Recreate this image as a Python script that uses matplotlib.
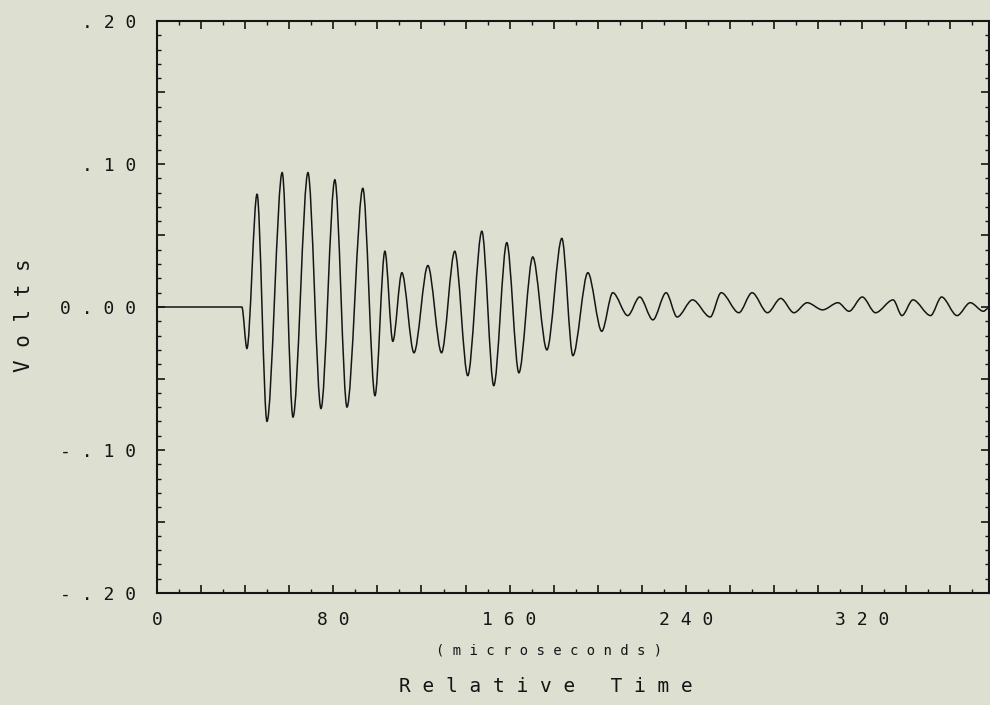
import matplotlib
matplotlib.use("Agg")
import matplotlib.pyplot as plt
from matplotlib.path import Path
from matplotlib.patches import PathPatch
from matplotlib.ticker import MultipleLocator, FuncFormatter

# ---- data (extrema of the trace) ----
time_us = [0, 38.5, 40.8, 45.4, 49.9, 56.8, 61.7, 68.5, 74.4, 80.7, 86.2,
           93.4, 98.9, 103.4, 107.0, 111.1, 116.6, 122.9, 129.1, 135.1,
           141.0, 147.4, 152.8, 158.7, 164.2, 170.5, 176.9, 183.7, 188.7,
           195.5, 201.8, 206.8, 213.6, 219, 225, 231, 236, 243, 251, 256,
           264, 270, 277, 283, 289, 295, 302, 309, 314, 320, 326, 334, 338,
           343, 351, 356, 363, 369, 375, 377]
volts = [0, 0, -0.029, 0.079, -0.080, 0.094, -0.077, 0.094, -0.071, 0.089,
         -0.070, 0.083, -0.062, 0.039, -0.024, 0.024, -0.032, 0.029, -0.032,
         0.039, -0.048, 0.053, -0.055, 0.045, -0.046, 0.035, -0.030, 0.048,
         -0.034, 0.024, -0.017, 0.010, -0.006, 0.007, -0.009, 0.010, -0.007,
         0.005, -0.007, 0.010, -0.004, 0.010, -0.004, 0.006, -0.004, 0.003,
         -0.002, 0.003, -0.003, 0.007, -0.004, 0.005, -0.006, 0.005, -0.006,
         0.007, -0.006, 0.003, -0.003, -0.001]

x_tick_values = [0, 80, 160, 240, 320]
x_tick_labels = ["0", "8 0", "1 6 0", "2 4 0", "3 2 0"]
y_tick_values = [0.20, 0.10, 0.00, -0.10, -0.20]
y_tick_labels = [". 2 0", ". 1 0", "0 . 0 0", "- . 1 0", "- . 2 0"]

BG = "#dddfd1"
INK = "#151515"
MONO = "DejaVu Sans Mono"

fig = plt.figure(figsize=(9.9, 7.05), dpi=100, facecolor=BG)
ax = fig.add_axes([157 / 990, 1 - 593 / 705, (989 - 157) / 990, (593 - 21) / 705])
ax.set_facecolor(BG)

# smooth trace: cubic Bezier with horizontal tangents at the read extrema
verts = [(time_us[0], volts[0])]
codes = [Path.MOVETO]
for i in range(1, len(time_us)):
    t0, v0 = time_us[i - 1], volts[i - 1]
    t1, v1 = time_us[i], volts[i]
    dt = t1 - t0
    verts += [(t0 + 0.32 * dt, v0), (t1 - 0.32 * dt, v1), (t1, v1)]
    codes += [Path.CURVE4] * 3
ax.add_patch(PathPatch(Path(verts, codes), fill=False, edgecolor=INK, lw=1.1))

ax.set_xlim(0, 377.5)
ax.set_ylim(-0.20, 0.20)

for s in ax.spines.values():
    s.set_color(INK)
    s.set_linewidth(1.5)

ax.xaxis.set_major_locator(MultipleLocator(20))
ax.xaxis.set_minor_locator(MultipleLocator(10))
lab_x = dict(zip(x_tick_values, x_tick_labels))
ax.xaxis.set_major_formatter(FuncFormatter(
    lambda v, p: lab_x.get(int(round(v)), "") if abs(v - round(v)) < 1e-6 else ""))

ax.yaxis.set_major_locator(MultipleLocator(0.05))
ax.yaxis.set_minor_locator(MultipleLocator(0.01))
lab_y = {round(k, 2): l for k, l in zip(y_tick_values, y_tick_labels)}
ax.yaxis.set_major_formatter(FuncFormatter(lambda v, p: lab_y.get(round(v, 2), "")))

ax.tick_params(which="both", direction="in", top=True, right=True, colors=INK)
ax.tick_params(which="major", length=6, width=1.2)
ax.tick_params(which="minor", length=3, width=1.0)
ax.tick_params(axis="x", which="major", pad=13, labelsize=13)
ax.tick_params(axis="y", which="major", pad=15, labelsize=13)
for lab in ax.get_xticklabels() + ax.get_yticklabels():
    lab.set_family(MONO)
    lab.set_color(INK)

fig.text(24 / 990, 1 - 315 / 705, "V o l t s", rotation=90, ha="center", va="center",
         family=MONO, fontsize=15, color=INK)
fig.text(549 / 990, 1 - 650 / 705, "( m i c r o s e c o n d s )", ha="center", va="center",
         family=MONO, fontsize=10, color=INK)
fig.text(546 / 990, 1 - 687 / 705, "R e l a t i v e   T i m e", ha="center", va="center",
         family=MONO, fontsize=14, color=INK)

fig.savefig("out.png", dpi=100, facecolor=BG)
